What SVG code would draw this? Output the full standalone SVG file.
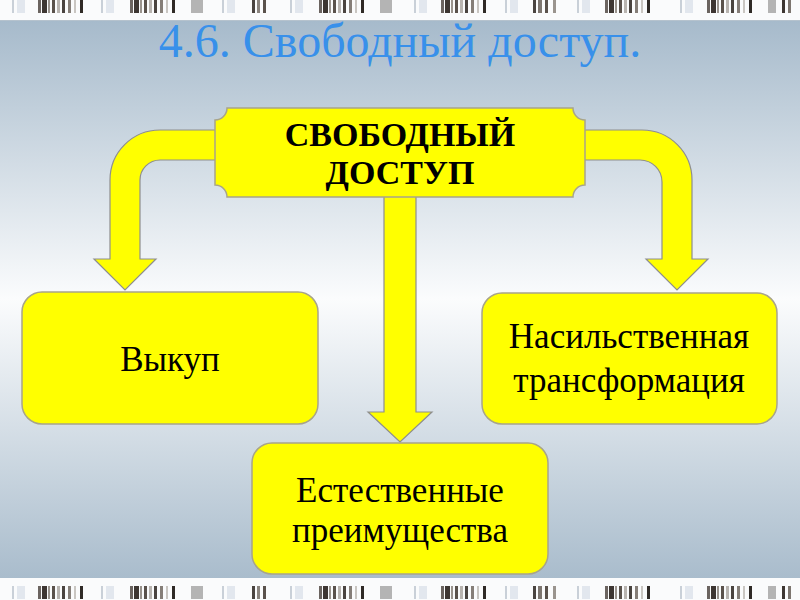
<svg xmlns="http://www.w3.org/2000/svg" xmlns:xlink="http://www.w3.org/1999/xlink" width="800" height="600" viewBox="0 0 800 600">
  <defs>
    <linearGradient id="panelGrad" x1="0" y1="0" x2="0" y2="1">
      <stop offset="0" stop-color="#a6bacb"/>
      <stop offset="0.5" stop-color="#fbfcfd"/>
      <stop offset="1" stop-color="#a9bccc"/>
    </linearGradient>
    <g id="dk">
      <rect x="0" y="0" width="3" height="13" fill="#6b6460"/>
      <rect x="4" y="0" width="5" height="13" fill="#3d3632"/>
      <rect x="10" y="0" width="2" height="13" fill="#9a948e"/>
      <rect x="14" y="0" width="3" height="13" fill="#5a524c"/>
      <rect x="19" y="0" width="3" height="13" fill="#b8b4b0"/>
      <rect x="24" y="0" width="3" height="13" fill="#4a4440"/>
      <rect x="30" y="0" width="3" height="13" fill="#857e78"/>
      <rect x="36" y="0" width="2" height="13" fill="#c9c6c2"/>
      <rect x="42" y="0" width="3" height="13" fill="#2f2a26"/>
    </g>
    <g id="lt">
      <rect x="0" y="0" width="2" height="13" fill="#c9d0d8"/>
      <rect x="5" y="0" width="8" height="13" fill="#e2e7ee"/>
    </g>
    <g id="strip">
      <rect x="0" y="0" width="800" height="20" fill="#fafbfc"/>
      <use xlink:href="#lt" x="12"/>
      <use xlink:href="#dk" x="38"/>
      <use xlink:href="#lt" x="101"/>
      <use xlink:href="#dk" x="130"/>
      <rect x="191" y="0" width="12" height="13" fill="#b4b4b4"/>
      <use xlink:href="#lt" x="222"/>
      <rect x="252" y="0" width="3" height="13" fill="#4a4440"/>
      <rect x="257" y="0" width="3" height="13" fill="#8a847e"/>
      <rect x="263" y="0" width="3" height="13" fill="#5a524c"/>
      <use xlink:href="#lt" x="290"/>
      <use xlink:href="#dk" x="319"/>
      <rect x="380" y="0" width="12" height="13" fill="#b4b4b4"/>
      <use xlink:href="#lt" x="414"/>
      <use xlink:href="#dk" x="441"/>
      <use xlink:href="#lt" x="505"/>
      <rect x="533" y="0" width="3" height="13" fill="#4a4440"/>
      <rect x="538" y="0" width="4" height="13" fill="#7d7670"/>
      <rect x="545" y="0" width="3" height="13" fill="#5a524c"/>
      <rect x="553" y="0" width="3" height="13" fill="#9a948e"/>
      <use xlink:href="#lt" x="577"/>
      <use xlink:href="#dk" x="605"/>
      <use xlink:href="#lt" x="680"/>
      <use xlink:href="#dk" x="707"/>
      <rect x="768" y="0" width="8" height="13" fill="#b4b4b4"/>
      <rect x="782" y="0" width="3" height="13" fill="#3d3632"/>
      <rect x="788" y="0" width="3" height="13" fill="#7d7670"/>
    </g>
  </defs>
  <style>
    .box { fill: #ffff00; stroke: #a8a48a; stroke-width: 1.5; }
    .arrow { fill: #ffff00; stroke: #8e8e8e; stroke-width: 1.2; stroke-linejoin: miter; }
    .lbl { font-family: "Liberation Serif", "Times New Roman", serif; font-size: 35px; fill: #000; text-anchor: middle; }
    .head { font-family: "Liberation Serif", "Times New Roman", serif; font-size: 34px; font-weight: bold; fill: #000; text-anchor: middle; }
    .title { font-family: "Liberation Serif", "Times New Roman", serif; font-size: 48px; fill: #3890ea; text-anchor: middle; }
  </style>

  <!-- background -->
  <rect x="0" y="0" width="800" height="600" fill="#fafbfc"/>
  <rect x="0" y="20" width="800" height="558" fill="url(#panelGrad)"/>
  <rect x="0" y="19" width="800" height="1.5" fill="#c4cad0"/>
  <use xlink:href="#strip" x="0" y="0"/>
  <use xlink:href="#strip" x="0" y="586"/>
  <rect x="0" y="578" width="800" height="8" fill="#fafbfc"/>

  <text class="title" x="400" y="57">4.6. Свободный доступ.</text>

  <g id="connectors">
    <path class="arrow" d="M 232,130 H 160 A 50 50 0 0 0 110 180 V 259 H 94 L 125 290 L 156 259 H 140 V 180 A 20 20 0 0 1 160 160 H 232 Z"/>
    <path class="arrow" d="M 568,130 H 642 A 50 50 0 0 1 692 180 V 259 H 708 L 677 290 L 646 259 H 662 V 182 A 22 22 0 0 0 640 160 H 568 Z"/>
    <path class="arrow" d="M 384,192 V 412 H 368 L 400 442 L 432 412 H 416 V 192 Z"/>
  </g>

  <g id="node-main">
    <path class="box" d="M 227,108 H 573 A 12 12 0 0 0 585 120 V 185 A 12 12 0 0 0 573 197 H 227 A 12 12 0 0 0 215 185 V 120 A 12 12 0 0 0 227 108 Z"/>
    <text class="head" x="400" y="146">СВОБОДНЫЙ</text>
    <text class="head" x="400" y="184">ДОСТУП</text>
  </g>

  <g id="node-vykup">
    <rect class="box" x="22" y="292" width="296" height="132" rx="20" ry="20"/>
    <text class="lbl" x="170" y="371">Выкуп</text>
  </g>

  <g id="node-nasil">
    <rect class="box" x="482" y="293" width="295" height="131" rx="20" ry="20"/>
    <text class="lbl" x="629" y="348">Насильственная</text>
    <text class="lbl" x="629" y="392">трансформация</text>
  </g>

  <g id="node-estest">
    <rect class="box" x="252" y="443" width="296" height="131" rx="20" ry="20"/>
    <text class="lbl" x="400" y="502">Естественные</text>
    <text class="lbl" x="400" y="542">преимущества</text>
  </g>
</svg>
